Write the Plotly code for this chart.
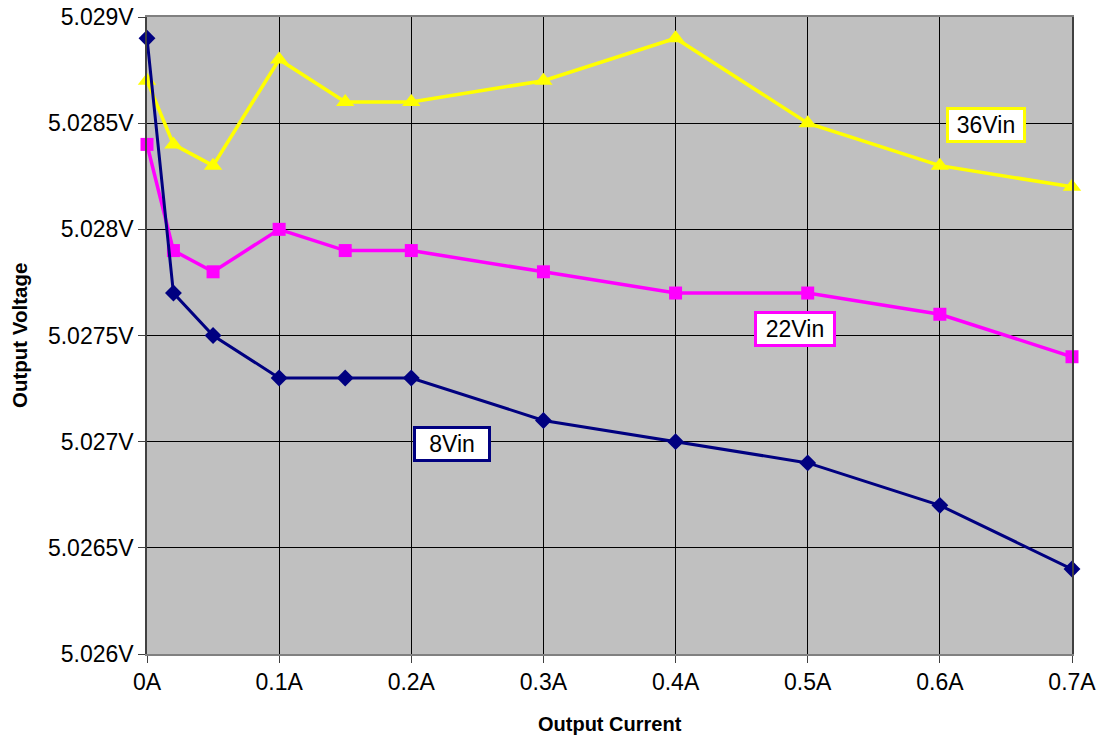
import plotly.graph_objects as go

current = [0, 0.02, 0.05, 0.1, 0.15, 0.2, 0.3, 0.4, 0.5, 0.6, 0.7]
v_8vin = [5.0289, 5.0277, 5.0275, 5.0273, 5.0273, 5.0273, 5.0271, 5.0270, 5.0269, 5.0267, 5.0264]
v_22vin = [5.0284, 5.0279, 5.0278, 5.0280, 5.0279, 5.0279, 5.0278, 5.0277, 5.0277, 5.0276, 5.0274]
v_36vin = [5.0287, 5.0284, 5.0283, 5.0288, 5.0286, 5.0286, 5.0287, 5.0289, 5.0285, 5.0283, 5.0282]
series_names = ["8Vin", "22Vin", "36Vin"]
x_ticks = [0, 0.1, 0.2, 0.3, 0.4, 0.5, 0.6, 0.7]
x_tick_labels = ["0A", "0.1A", "0.2A", "0.3A", "0.4A", "0.5A", "0.6A", "0.7A"]
y_ticks = [5.026, 5.0265, 5.027, 5.0275, 5.028, 5.0285, 5.029]
y_tick_labels = ["5.026V", "5.0265V", "5.027V", "5.0275V", "5.028V", "5.0285V", "5.029V"]

FONT = "Liberation Sans, Arial, sans-serif"

fig = go.Figure()
fig.add_trace(go.Scatter(x=current, y=v_36vin, name=series_names[2], mode="lines+markers",
                         line=dict(color="#FFFF00", width=3.5), cliponaxis=False,
                         marker=dict(symbol="triangle-up", size=16, color="#FFFF00")))
fig.add_trace(go.Scatter(x=current, y=v_22vin, name=series_names[1], mode="lines+markers",
                         line=dict(color="#FF00FF", width=3.5), cliponaxis=False,
                         marker=dict(symbol="square", size=13, color="#FF00FF")))
fig.add_trace(go.Scatter(x=current, y=v_8vin, name=series_names[0], mode="lines+markers",
                         line=dict(color="#000080", width=3), cliponaxis=False,
                         marker=dict(symbol="diamond", size=13, color="#000080")))

# label boxes (x in data units, y in data units)
label_specs = [
    (series_names[2], 0.635, 5.02849, "#FFFF00", 74),
    (series_names[1], 0.490, 5.02753, "#FF00FF", 76),
    (series_names[0], 0.231, 5.02699, "#000080", 72),
]
for text, ax, ay, col, w in label_specs:
    fig.add_annotation(x=ax, y=ay, text=text, showarrow=False,
                       font=dict(family=FONT, size=23, color="black"),
                       width=w, height=30, align="center", valign="middle",
                       bgcolor="white", bordercolor=col, borderwidth=3, borderpad=0)

# axis titles
fig.add_annotation(xref="paper", yref="paper", x=0.5005, y=-0.110, text="<b>Output Current</b>",
                   showarrow=False, xanchor="center", yanchor="middle",
                   font=dict(family=FONT, size=20, color="black"))
fig.add_annotation(xref="paper", yref="paper", x=-0.1373, y=0.5008, text="<b>Output Voltage</b>",
                   showarrow=False, xanchor="center", yanchor="middle", textangle=-90,
                   font=dict(family=FONT, size=20.5, color="black"))

fig.update_layout(
    width=1102, height=739,
    margin=dict(l=147, r=30, t=17, b=85),
    paper_bgcolor="white", plot_bgcolor="#C0C0C0",
    showlegend=False,
    font=dict(family=FONT, size=23, color="black"),
    xaxis=dict(range=[0, 0.7], tickvals=x_ticks, ticktext=x_tick_labels,
               showgrid=True, gridcolor="#000000", gridwidth=1,
               zeroline=False, showline=True, linecolor="#808080", linewidth=1.5, mirror=True,
               ticks="outside", ticklen=7, tickcolor="#404040", automargin=False,
               ticklabeloverflow="allow"),
    yaxis=dict(range=[5.026, 5.029], tickvals=y_ticks, ticktext=y_tick_labels,
               showgrid=True, gridcolor="#000000", gridwidth=1,
               zeroline=False, showline=True, linecolor="#404040", linewidth=1.5, mirror=True,
               ticks="outside", ticklen=7, tickcolor="#404040", automargin=False,
               ticklabeloverflow="allow"),
)

fig.write_html("out.html",
               config={"displayModeBar": False},
               post_script="document.body.style.margin='0';document.body.style.overflow='hidden';")
